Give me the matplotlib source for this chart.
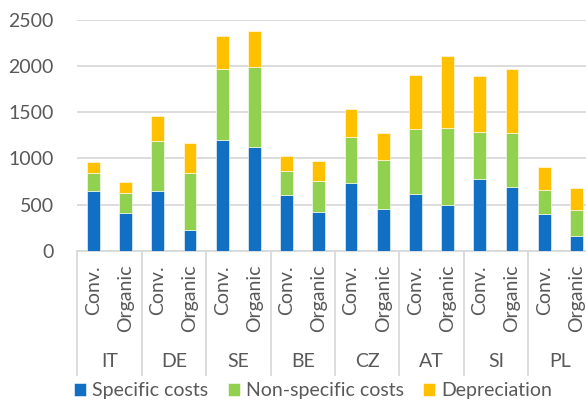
import numpy as np
import matplotlib
matplotlib.use("Agg")
import matplotlib.pyplot as plt
import matplotlib.transforms as mtransforms

plt.rcParams['font.family'] = ['Lato', 'DejaVu Sans']

countries = ['IT', 'DE', 'SE', 'BE', 'CZ', 'AT', 'SI', 'PL']
methods = ['Conv.', 'Organic']
specific = [653, 411, 649, 224, 1201, 1126, 606, 426, 740, 451, 617, 501, 783, 689, 400, 162]
nonspecific = [195, 217, 545, 617, 761, 858, 260, 335, 497, 534, 700, 830, 498, 581, 260, 278]
depreciation = [112, 122, 263, 328, 361, 390, 159, 217, 300, 285, 581, 779, 609, 696, 245, 242]

c_blue = '#1170C4'
c_green = '#92D050'
c_orange = '#FFC000'
grey_txt = '#595959'
grid_c = '#D9D9D9'

W, H = 586, 403
fig = plt.figure(figsize=(W / 100, H / 100), dpi=100)
ax_l, ax_r, ax_t, ax_b = 77.3, 592.5, 19.7, 251.0
ax = fig.add_axes([ax_l / W, 1 - ax_b / H, (ax_r - ax_l) / W, (ax_b - ax_t) / H])

x = np.arange(len(specific))
spec = np.array(specific)
nons = np.array(nonspecific)
dep = np.array(depreciation)
bw = 0.4
ax.bar(x, spec, bw, color=c_blue, edgecolor='white', linewidth=0.4, label='Specific costs', zorder=3)
ax.bar(x, nons, bw, bottom=spec, color=c_green, edgecolor='white', linewidth=0.4,
       label='Non-specific costs', zorder=3)
ax.bar(x, dep, bw, bottom=spec + nons, color=c_orange, edgecolor='white', linewidth=0.4,
       label='Depreciation', zorder=3)

ax.set_xlim(-0.5, len(x) - 0.5)
ax.set_ylim(0, 2500)
ax.set_yticks(range(0, 2501, 500))
ax.yaxis.grid(True, color=grid_c, linewidth=1.3)
ax.set_axisbelow(True)
for s in ['top', 'right', 'left']:
    ax.spines[s].set_visible(False)
ax.spines['bottom'].set_color(grid_c)
ax.spines['bottom'].set_linewidth(1.3)
ax.tick_params(axis='y', length=0, pad=17, labelsize=14, labelcolor=grey_txt)
ax.set_xticks([])

# category labels
ax_h = ax_b - ax_t
trans = mtransforms.blended_transform_factory(ax.transData, ax.transAxes)
for i in x:
    ax.text(i, -14 / ax_h, methods[i % 2], rotation=90, ha='center', va='top',
            fontsize=14, color=grey_txt, transform=trans)
for g, c in enumerate(countries):
    ax.text(2 * g + 0.5, -110.7 / ax_h, c, ha='center', va='center',
            fontsize=14, color=grey_txt, transform=trans)
for g in range(len(countries) + 1):
    ax.plot([2 * g - 0.5, 2 * g - 0.5], [0, -124 / ax_h], color=grid_c, linewidth=1.3,
            transform=trans, clip_on=False)

fig.legend(loc='center', bbox_to_anchor=(313 / W, 1 - 390.7 / H), ncol=3, frameon=False,
           fontsize=14, labelcolor=grey_txt, handlelength=0.62, handleheight=0.62,
           handletextpad=0.3, columnspacing=1.0, borderaxespad=0, borderpad=0)

fig.savefig('out.png', dpi=100)
